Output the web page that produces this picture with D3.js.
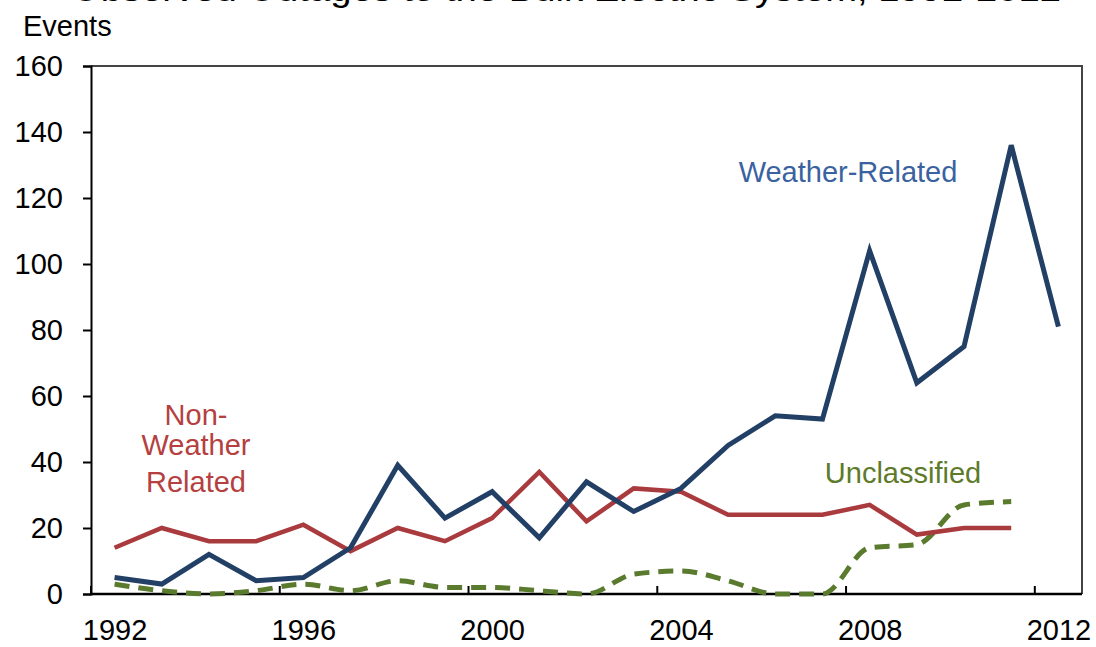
<!DOCTYPE html>
<html>
<head>
<meta charset="utf-8">
<script src="https://cdn.jsdelivr.net/npm/d3@7"></script>
<style>
  body { margin: 0; background: #fff; }
  svg { display: block; font-family: "Liberation Sans", Arial, sans-serif; }
</style>
</head>
<body>
<div id="chart"></div>
<script>
// data
var years = d3.range(1992, 2013);
var weatherRelated = [5, 3, 12, 4, 5, 14, 39, 23, 31, 17, 34, 25, 32, 45, 54, 53, 104, 64, 75, 136, 81];
var nonWeather = [14, 20, 16, 16, 21, 13, 20, 16, 23, 37, 22, 32, 31, 24, 24, 24, 27, 18, 20, 20, null];
var unclassified = [3, 1, 0, 1, 3, 1, 4, 2, 2, 1, 0, 6, 7, 4, 0, 0, 14, 15, 27, 28, null];
var yTicks = [0, 20, 40, 60, 80, 100, 120, 140, 160];
var xTickLabels = [1992, 1996, 2000, 2004, 2008, 2012];

var svgWidth = 1096;
var svgHeight = 647;

var margin = { top: 66, right: 14, bottom: 53, left: 91 };
var width = svgWidth - margin.left - margin.right;
var height = svgHeight - margin.top - margin.bottom;

var svg = d3.select("#chart")
  .append("svg")
  .attr("width", svgWidth)
  .attr("height", svgHeight);

// title is cut off by the top edge in the original
svg.append("text")
  .attr("x", 566)
  .attr("y", 1)
  .attr("text-anchor", "middle")
  .attr("font-size", 34)
  .attr("textLength", 990)
  .attr("lengthAdjust", "spacingAndGlyphs")
  .attr("fill", "#000")
  .text("Observed Outages to the Bulk Electric System, 1992-2012");

svg.append("text")
  .attr("x", 23)
  .attr("y", 36)
  .attr("font-size", 29)
  .attr("fill", "#000")
  .text("Events");

var chartGroup = svg.append("g")
  .attr("transform", `translate(${margin.left}, ${margin.top})`);

var xBand = d3.scaleBand()
  .domain(years)
  .range([0, width])
  .padding(0);

var xScale = d => xBand(d) + xBand.bandwidth() / 2;

var yScale = d3.scaleLinear()
  .domain([0, 160])
  .range([height, 0]);

// plot frame (top and right)
chartGroup.append("path")
  .attr("d", `M0,0H${width}V${height}`)
  .attr("fill", "none")
  .attr("stroke", "#444")
  .attr("stroke-width", 2);

// y axis
var yAxis = d3.axisLeft(yScale)
  .tickValues(yTicks)
  .tickSize(8)
  .tickPadding(20);

var yg = chartGroup.append("g").call(yAxis);
yg.select(".domain").attr("stroke", "#000").attr("stroke-width", 2);
yg.selectAll(".tick line").attr("stroke", "#000").attr("stroke-width", 2);
yg.selectAll(".tick text")
  .attr("font-size", 29)
  .attr("font-family", "Liberation Sans, Arial, sans-serif")
  .attr("fill", "#000");

// x axis: labels at category centres, ticks on category boundaries
var xAxis = d3.axisBottom(d3.scalePoint().domain(years).range([xScale(1992), xScale(2012)]))
  .tickValues(xTickLabels)
  .tickSize(0)
  .tickPadding(25);

var xg = chartGroup.append("g")
  .attr("transform", `translate(0, ${height})`)
  .call(xAxis);
xg.select(".domain").remove();
xg.selectAll(".tick text")
  .attr("font-size", 29)
  .attr("font-family", "Liberation Sans, Arial, sans-serif")
  .attr("fill", "#000");

chartGroup.selectAll(".xtick")
  .data(xTickLabels)
  .enter()
  .append("line")
  .attr("class", "xtick")
  .attr("x1", d => xBand(d))
  .attr("x2", d => xBand(d))
  .attr("y1", height)
  .attr("y2", height - 8)
  .attr("stroke", "#000")
  .attr("stroke-width", 2);

chartGroup.append("line")
  .attr("x1", -1)
  .attr("x2", width)
  .attr("y1", height)
  .attr("y2", height)
  .attr("stroke", "#000")
  .attr("stroke-width", 2.5);

// lines
function seriesData(values) {
  return years.map((y, i) => ({ year: y, value: values[i] }))
    .filter(d => d.value !== null);
}

var straight = d3.line()
  .x(d => xScale(d.year))
  .y(d => yScale(d.value));

var smooth = d3.line()
  .x(d => xScale(d.year))
  .y(d => yScale(d.value))
  .curve(d3.curveMonotoneX);

chartGroup.append("path")
  .datum(seriesData(unclassified))
  .attr("d", smooth)
  .attr("fill", "none")
  .attr("stroke", "#5a7a2e")
  .attr("stroke-width", 5)
  .attr("stroke-dasharray", "15,9");

chartGroup.append("path")
  .datum(seriesData(nonWeather))
  .attr("d", straight)
  .attr("fill", "none")
  .attr("stroke", "#a93a3d")
  .attr("stroke-width", 4.5)
  .attr("stroke-linejoin", "miter");

chartGroup.append("path")
  .datum(seriesData(weatherRelated))
  .attr("d", straight)
  .attr("fill", "none")
  .attr("stroke", "#223f66")
  .attr("stroke-width", 5)
  .attr("stroke-linejoin", "miter");

// series labels
svg.append("text")
  .attr("x", 848)
  .attr("y", 182)
  .attr("text-anchor", "middle")
  .attr("font-size", 29)
  .attr("fill", "#3a62a0")
  .text("Weather-Related");

var nwLabel = svg.append("text")
  .attr("text-anchor", "middle")
  .attr("font-size", 29)
  .attr("fill", "#b5403f");
nwLabel.append("tspan").attr("x", 196).attr("y", 425).text("Non-");
nwLabel.append("tspan").attr("x", 196).attr("y", 455).text("Weather");
nwLabel.append("tspan").attr("x", 196).attr("y", 492).text("Related");

svg.append("text")
  .attr("x", 903)
  .attr("y", 483)
  .attr("text-anchor", "middle")
  .attr("font-size", 29)
  .attr("fill", "#5d7b2a")
  .text("Unclassified");
</script>
</body>
</html>
